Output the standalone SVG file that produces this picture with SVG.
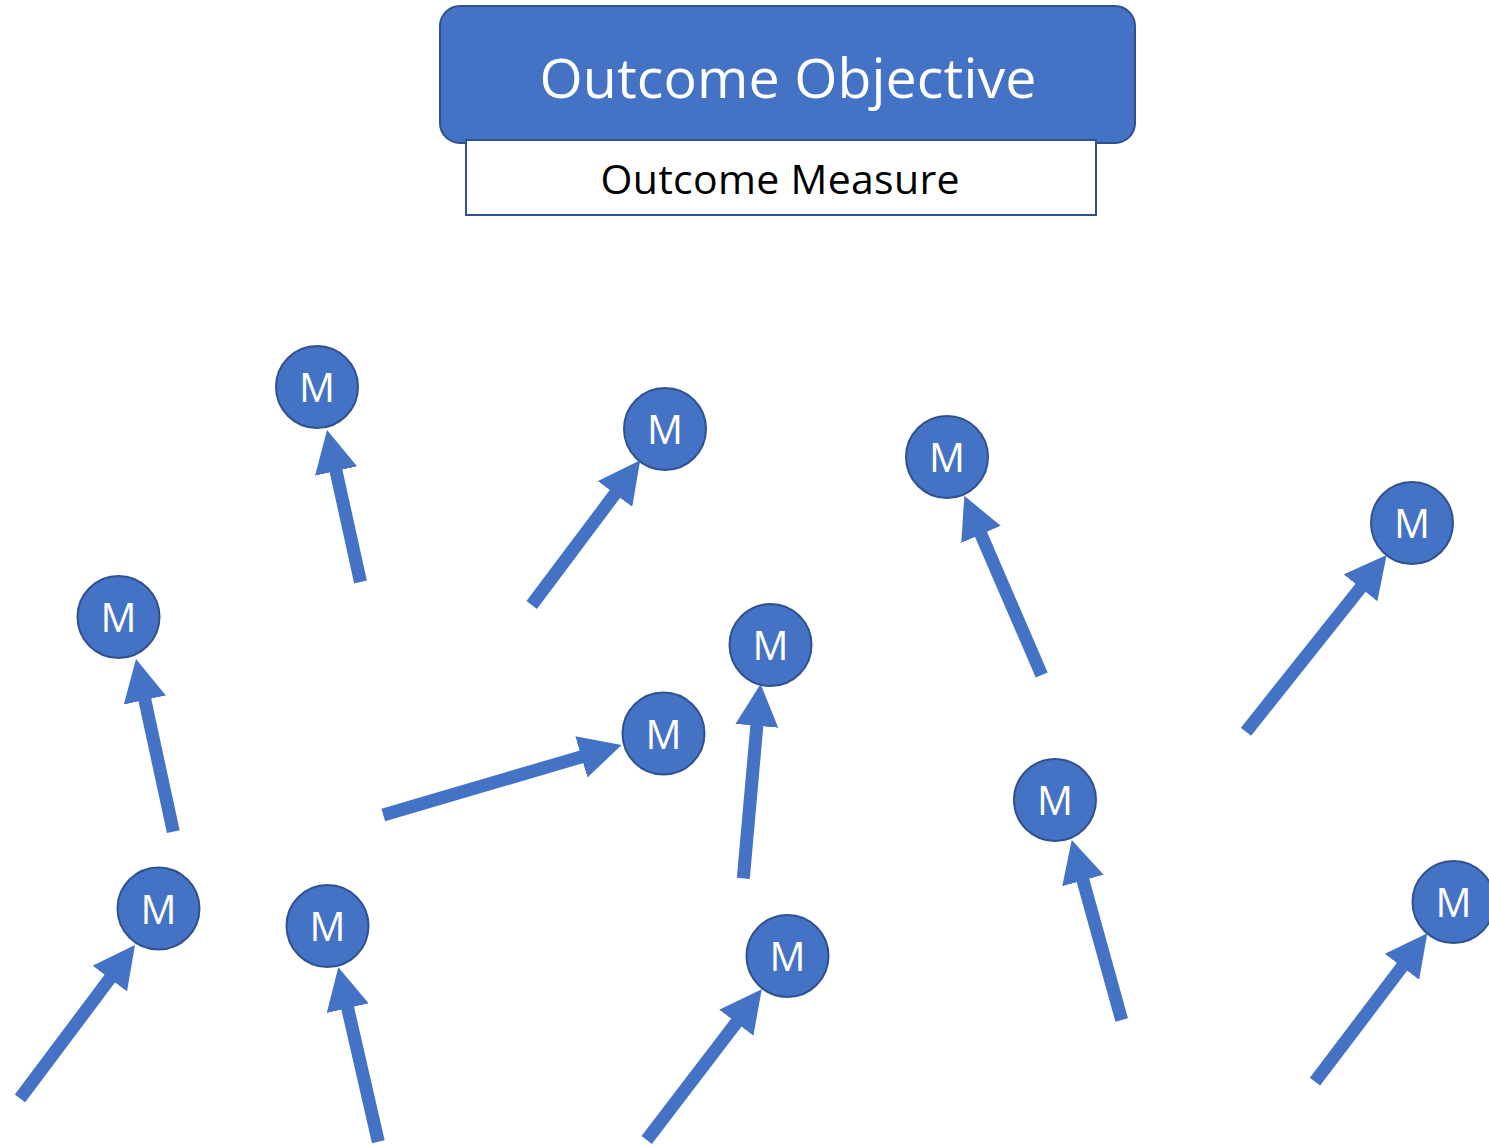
<svg xmlns="http://www.w3.org/2000/svg" width="1489" height="1145" viewBox="0 0 1489 1145">
<style>
.bg{fill:#ffffff}
.obj{fill:#4472C4;stroke:#2F528F;stroke-width:2}
.meas{fill:#ffffff;stroke:#2F528F;stroke-width:2}
.node{fill:#4472C4;stroke:#2F528F;stroke-width:2}
.lbl{font-family:"Open Sans","Noto Sans",sans-serif;fill:#ffffff;font-size:40px;text-anchor:middle}
.title{font-family:"Open Sans","Noto Sans",sans-serif;fill:#ffffff;font-size:55.5px;text-anchor:middle}
.sub{font-family:"Open Sans","Noto Sans",sans-serif;fill:#000000;font-size:41px;text-anchor:middle}
.arr{stroke:#4472C4;stroke-width:13;fill:none;stroke-linecap:butt;marker-end:url(#head)}
</style>
<defs>
<marker id="head" viewBox="0 0 42 43" refX="4" refY="21.5" markerWidth="42" markerHeight="43" markerUnits="userSpaceOnUse" orient="auto">
<path d="M0,0 L42,21.5 L0,43 z" fill="#4472C4"/>
</marker>
</defs>
<rect class="bg" x="0" y="0" width="1489" height="1145"/>
<g id="header">
<g id="objective">
<rect class="obj" x="440" y="6" width="695" height="137" rx="20" ry="20"/>
<text class="title" x="788" y="98" textLength="497" lengthAdjust="spacing">Outcome Objective</text>
</g>
<g id="measure">
<rect class="meas" x="466" y="140" width="630" height="75"/>
<text class="sub" x="780" y="194" textLength="359" lengthAdjust="spacing">Outcome Measure</text>
</g>
</g>
<g id="connectors">
<line class="arr" x1="360.5" y1="582" x2="335.2" y2="467.1"/>
<line class="arr" x1="531.7" y1="605" x2="617.4" y2="490.7"/>
<line class="arr" x1="1041.7" y1="675" x2="979.4" y2="530.7"/>
<line class="arr" x1="1246" y1="731.7" x2="1363" y2="584.7"/>
<line class="arr" x1="173.3" y1="831.7" x2="144" y2="696.1"/>
<line class="arr" x1="743.3" y1="878.3" x2="757.2" y2="721.8"/>
<line class="arr" x1="383.3" y1="815" x2="585.2" y2="755.7"/>
<line class="arr" x1="1121.7" y1="1020" x2="1081.9" y2="876.6"/>
<line class="arr" x1="20" y1="1098.3" x2="112.2" y2="975.4"/>
<line class="arr" x1="378.3" y1="1141.7" x2="346.8" y2="1004.3"/>
<line class="arr" x1="646.7" y1="1140" x2="738.7" y2="1019.5"/>
<line class="arr" x1="1315" y1="1081.7" x2="1404.4" y2="963.6"/>
</g>
<g id="m1"><circle class="node" cx="317" cy="387" r="41"/><text class="lbl" x="317" y="402">M</text></g>
<g id="m2"><circle class="node" cx="665" cy="429" r="41"/><text class="lbl" x="665" y="444">M</text></g>
<g id="m3"><circle class="node" cx="947" cy="457" r="41"/><text class="lbl" x="947" y="472">M</text></g>
<g id="m4"><circle class="node" cx="1412" cy="523" r="41"/><text class="lbl" x="1412" y="538">M</text></g>
<g id="m5"><circle class="node" cx="118.5" cy="617" r="41"/><text class="lbl" x="118.5" y="632">M</text></g>
<g id="m6"><circle class="node" cx="770.5" cy="645" r="41"/><text class="lbl" x="770.5" y="660">M</text></g>
<g id="m7"><circle class="node" cx="663.5" cy="733.5" r="41"/><text class="lbl" x="663.5" y="748.5">M</text></g>
<g id="m8"><circle class="node" cx="1055" cy="800" r="41"/><text class="lbl" x="1055" y="815">M</text></g>
<g id="m9"><circle class="node" cx="158.5" cy="908.5" r="41"/><text class="lbl" x="158.5" y="923.5">M</text></g>
<g id="m10"><circle class="node" cx="327.5" cy="926" r="41"/><text class="lbl" x="327.5" y="941">M</text></g>
<g id="m11"><circle class="node" cx="787.5" cy="956" r="41"/><text class="lbl" x="787.5" y="971">M</text></g>
<g id="m12"><circle class="node" cx="1453.5" cy="902" r="41"/><text class="lbl" x="1453.5" y="917">M</text></g>
</svg>
